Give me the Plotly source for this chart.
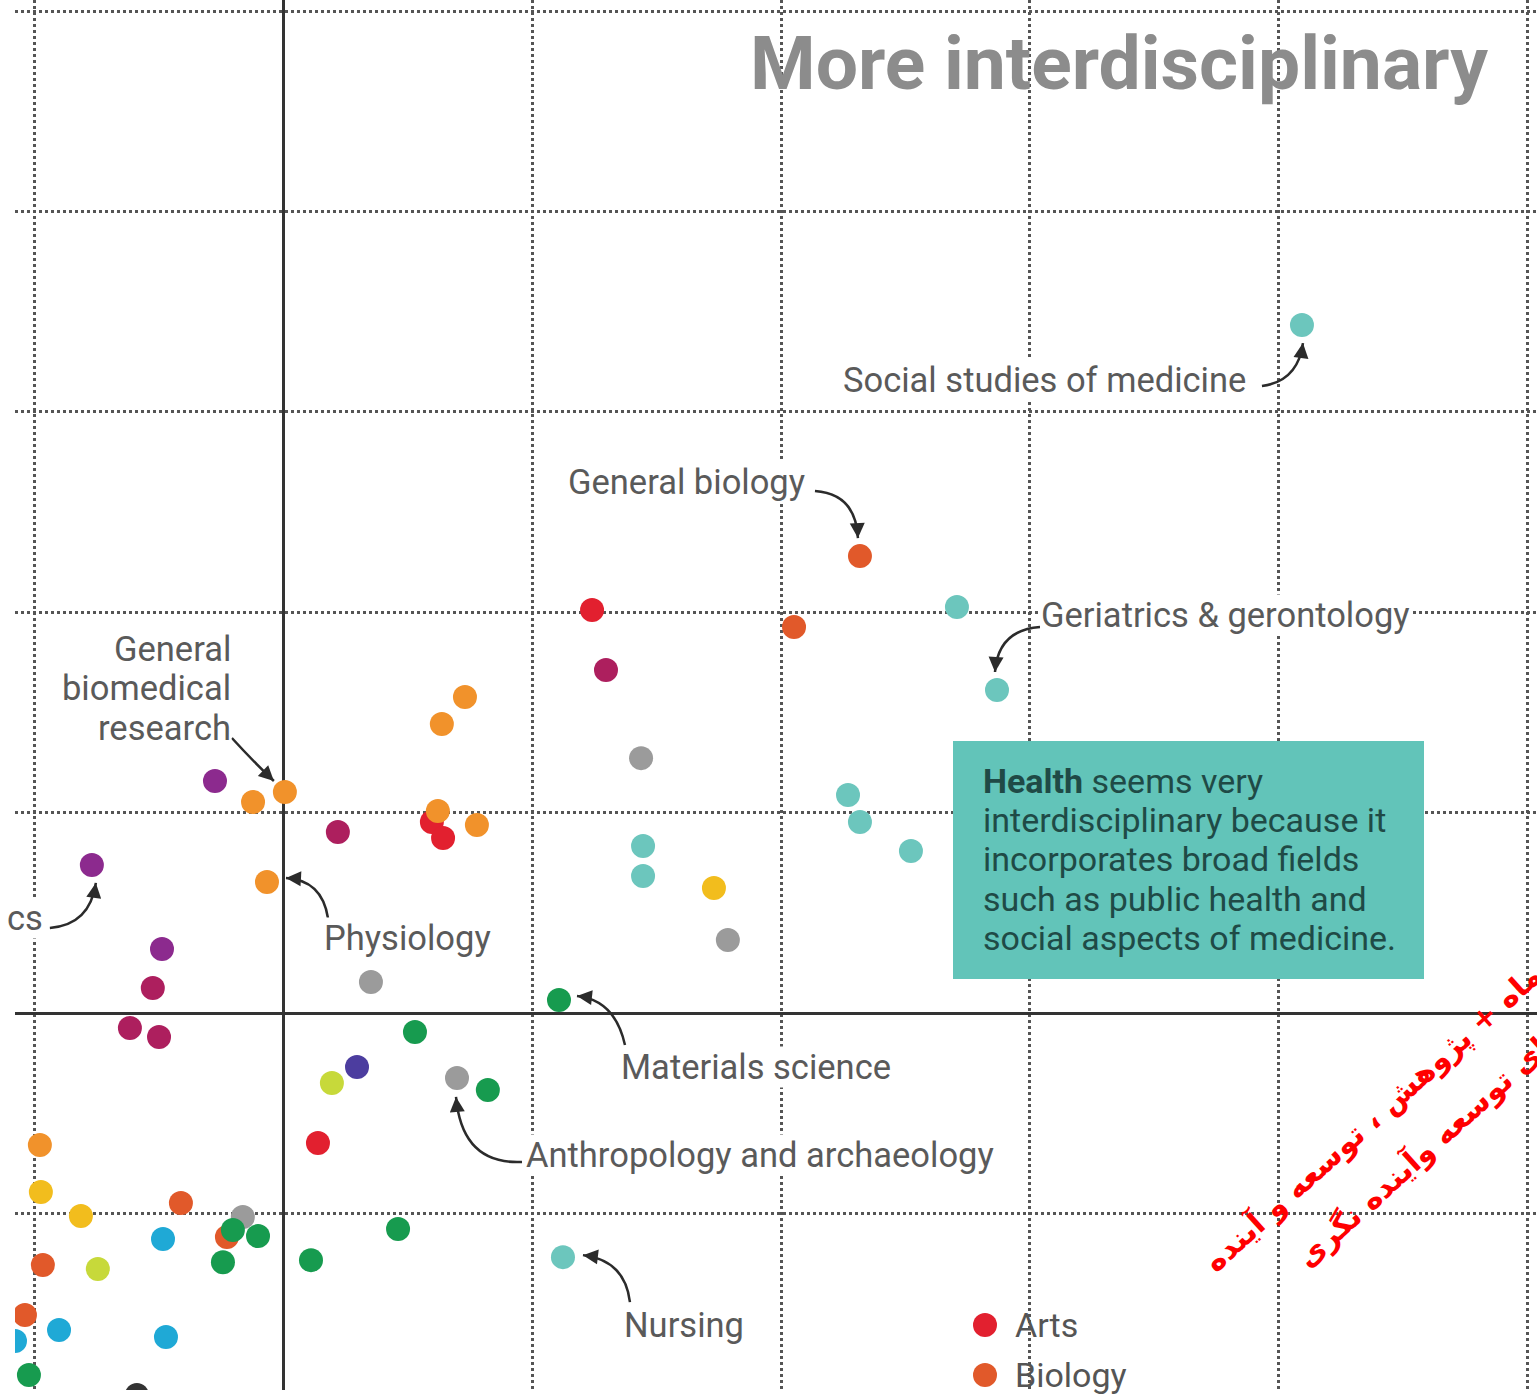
import plotly.graph_objects as go
import math

# ---------------- data (grid units; solid axes at x=0, y=0) ----------------
arts_x = [1.240, 0.596, 0.641, 0.138]
arts_y = [2.011, 0.953, 0.873, -0.649]

biology_x = [2.317, 2.052, -0.413, -0.968, -1.040, -0.228]
biology_y = [2.280, 1.926, -0.948, -1.257, -1.507, -1.118]

biomed_x = [0.005, -0.123, -0.067, 0.729, 0.636, 0.620, 0.777, -0.980]
biomed_y = [1.103, 1.053, 0.654, 1.577, 1.442, 1.008, 0.938, -0.659]

chem_x = [-0.276, -0.771, -0.489]
chem_y = [1.158, 0.739, 0.319]

clin_x = [1.296, 0.218, -0.526, -0.618, -0.501]
clin_y = [1.712, 0.903, 0.125, -0.075, -0.120]

social_x = [1.437, 1.786, 0.351, 0.697, -0.164]
social_y = [1.272, 0.364, 0.155, -0.324, -1.018]

math_x = [1.730, -0.976, -0.815]
math_y = [0.624, -0.893, -1.013]

eng_x = [1.107, 0.528, 0.821, 0.460, 0.110, -0.103, -0.204, -0.244, -1.024]
eng_y = [0.065, -0.095, -0.384, -1.078, -1.233, -1.113, -1.083, -1.243, -1.806]

psych_x = [0.194, -0.747]
psych_y = [-0.349, -1.277]

phys_x = [0.295]
phys_y = [-0.269]

prof_x = [-0.485, -0.903, -1.080, -0.473]
prof_y = [-1.128, -1.582, -1.637, -1.617]

hum_x = [-0.590]
hum_y = [-1.906]

health_x = [4.094, 2.707, 2.868, 2.269, 2.317, 2.522, 1.445, 1.445, 1.123]
health_y = [3.433, 2.026, 1.612, 1.088, 0.953, 0.808, 0.833, 0.684, -1.218]

legend_labels = ["Arts", "Biology"]

colors = {
    "Arts": "#e2202f", "Biology": "#e1592a", "Biomedical research": "#f1922b",
    "Chemistry": "#8c2a8e", "Clinical medicine": "#ad1f5e", "Social sciences": "#9b9b9b",
    "Mathematics": "#f2bd1d", "Engineering and technology": "#179b4f",
    "Psychology": "#c7d93a", "Physics": "#4c3d9f", "Professional fields": "#1fa9d6",
    "Humanities": "#333333", "Health": "#6cc6bd",
}
series = {
    "Arts": (arts_x, arts_y), "Biology": (biology_x, biology_y),
    "Biomedical research": (biomed_x, biomed_y), "Chemistry": (chem_x, chem_y),
    "Clinical medicine": (clin_x, clin_y), "Social sciences": (social_x, social_y),
    "Mathematics": (math_x, math_y), "Engineering and technology": (eng_x, eng_y),
    "Psychology": (psych_x, psych_y), "Physics": (phys_x, phys_y),
    "Professional fields": (prof_x, prof_y), "Humanities": (hum_x, hum_y),
    "Health": (health_x, health_y),
}

# ---------------- geometry ----------------
W, H = 1537, 1397
ML, MR, MT, MB = 15, 0, 0, 7
XR = [-1.080, 5.039]
YR = [-1.881, 5.055]
PW, PH = W - ML - MR, H - MT - MB
sx = PW / (XR[1] - XR[0])
sy = PH / (YR[1] - YR[0])


def dx(px):
    return XR[0] + (px - ML) / sx


def dy(py):
    return YR[1] - (py - MT) / sy


def paper_x(px):
    return (px - ML) / PW


def paper_y(py):
    return 1 - (py - MT) / PH


fig = go.Figure()
draw_order = ["Arts", "Chemistry", "Clinical medicine", "Biomedical research", "Biology",
              "Social sciences", "Mathematics", "Engineering and technology", "Psychology",
              "Physics", "Professional fields", "Humanities", "Health"]
for name in draw_order:
    xs, ys = series[name]
    fig.add_trace(go.Scatter(
        x=xs, y=ys, mode="markers", name=name, showlegend=False,
        marker=dict(size=24, color=colors[name], line=dict(width=0)),
    ))

FAM = "Roboto, Open Sans, sans-serif"
TXT = dict(family=FAM, size=34.5, color="#5a5a5a")
annotations = []
shapes = []


def label(text, px, py, xanchor, size=34.5):
    annotations.append(dict(x=dx(px), y=dy(py), text=text, showarrow=False, xanchor=xanchor,
                            yanchor="middle", align="left", font=dict(TXT, size=size),
                            bgcolor="white", borderpad=0))


def curved_arrow(px_, py_, start, ctrl, tip):
    # offsets in screen pixels relative to the labelled point (x right, y down)
    def P(o):
        return px_ + o[0] / sx, py_ - o[1] / sy
    s, c, t = P(start), P(ctrl), P(tip)
    shapes.append(dict(type="path", xref="x", yref="y",
                       path=f"M {s[0]},{s[1]} Q {c[0]},{c[1]} {t[0]},{t[1]}",
                       line=dict(color="#2b2b2b", width=2.5), layer="above"))
    ux, uy = tip[0] - ctrl[0], tip[1] - ctrl[1]
    n = math.hypot(ux, uy)
    ux, uy = ux / n, uy / n
    annotations.append(dict(x=t[0], y=t[1], text="", showarrow=True, arrowhead=2,
                            arrowsize=1.2, arrowwidth=2.5, arrowcolor="#2b2b2b",
                            ax=-ux * 6, ay=-uy * 6, standoff=0))


# labels
label("Social studies of medicine", 1247, 380, "right")
label("General biology", 567, 482, "left")
label("Geriatrics &amp; gerontology", 1040, 615, "left")
label("General", 232, 649, "right")
label("biomedical", 232, 688, "right")
label("research", 232, 728, "right")
label("cs", 44, 918, "right")
label("Physiology", 323, 938, "left")
label("Materials science", 620, 1067, "left")
label("Anthropology and archaeology", 525, 1155, "left")
label("Nursing", 623, 1325, "left")

# arrows tied to the labelled points
curved_arrow(health_x[0], health_y[0], (-40, 61), (-4, 56), (1, 18))
curved_arrow(biology_x[0], biology_y[0], (-45, -65), (-4, -62), (-2, -18))
curved_arrow(health_x[2], health_y[2], (43, -63), (1, -60), (-2, -18))
curved_arrow(biomed_x[0], biomed_y[0], (-53, -54), (-33, -32), (-11, -11))
curved_arrow(chem_x[1], chem_y[1], (-42, 63), (-2, 60), (4, 18))
curved_arrow(biomed_x[2], biomed_y[2], (61, 36), (55, -2), (19, -4))
curved_arrow(eng_x[0], eng_y[0], (66, 45), (56, 0), (18, -4))
curved_arrow(social_x[3], social_y[3], (65, 84), (5, 87), (-1, 19))
curved_arrow(health_x[8], health_y[8], (67, 45), (62, 3), (20, -2))

# Health box
shapes.append(dict(type="rect", xref="x", yref="y", x0=dx(953), x1=dx(1424), y0=dy(979), y1=dy(741),
                   fillcolor="#62c4b9", line=dict(width=0), layer="above"))
box_lines = ["<b>Health</b> seems very", "interdisciplinary because it", "incorporates broad fields",
             "such as public health and", "social aspects of medicine."]
box_y = [781, 820, 859, 899, 938]
for t, yy in zip(box_lines, box_y):
    annotations.append(dict(x=dx(981), y=dy(yy), xanchor="left", yanchor="middle", align="left",
                            showarrow=False, text=t,
                            font=dict(family=FAM, size=34, color="#1f4a46")))

# Title
annotations.append(dict(x=dx(1490), y=dy(63), xanchor="right", yanchor="middle", showarrow=False,
                        text="<b>More interdisciplinary</b>",
                        font=dict(family=FAM, size=75, color="#8c8c8c")))

# Legend (drawn by hand so the dots keep their full size)
for i, name in enumerate(legend_labels):
    cy = 1325 + 50 * i
    shapes.append(dict(type="circle", xref="paper", yref="paper",
                       x0=paper_x(973), x1=paper_x(997), y0=paper_y(cy + 12), y1=paper_y(cy - 12),
                       fillcolor=colors[name], line=dict(width=0)))
    annotations.append(dict(xref="paper", yref="paper", x=paper_x(1013), y=paper_y(cy), text=name,
                            showarrow=False, xanchor="left", yanchor="middle",
                            font=dict(family=FAM, size=34, color="#555555")))

# Watermark (red Persian text, rotated)
WM = dict(family="DejaVu Sans", size=30, color="#ff0000")
annotations.append(dict(x=dx(1372), y=dy(1118), text="<b>ماه + پژوهش ، توسعه و آینده</b>", textangle=-42,
                        showarrow=False, xanchor="center", yanchor="middle", font=WM))
annotations.append(dict(x=dx(1422), y=dy(1152), text="<b>ای توسعه وآینده نگری</b>", textangle=-42,
                        showarrow=False, xanchor="center", yanchor="middle", font=WM))

GRID = dict(dtick=1, tick0=0, showticklabels=False, ticks="", showgrid=True,
            gridcolor="#555555", gridwidth=2.5, griddash="dot", zeroline=True,
            zerolinecolor="#333333", zerolinewidth=3, showline=False, fixedrange=True)
fig.update_layout(
    width=W, height=H,
    margin=dict(l=ML, r=MR, t=MT, b=MB, pad=0, autoexpand=False),
    paper_bgcolor="white", plot_bgcolor="white",
    xaxis=dict(GRID, range=XR),
    yaxis=dict(GRID, range=YR),
    showlegend=False,
    annotations=annotations, shapes=shapes,
)

fig.write_html("out.html", config={"displayModeBar": False},
               post_script="document.body.style.margin='0';document.body.style.overflow='hidden';")
